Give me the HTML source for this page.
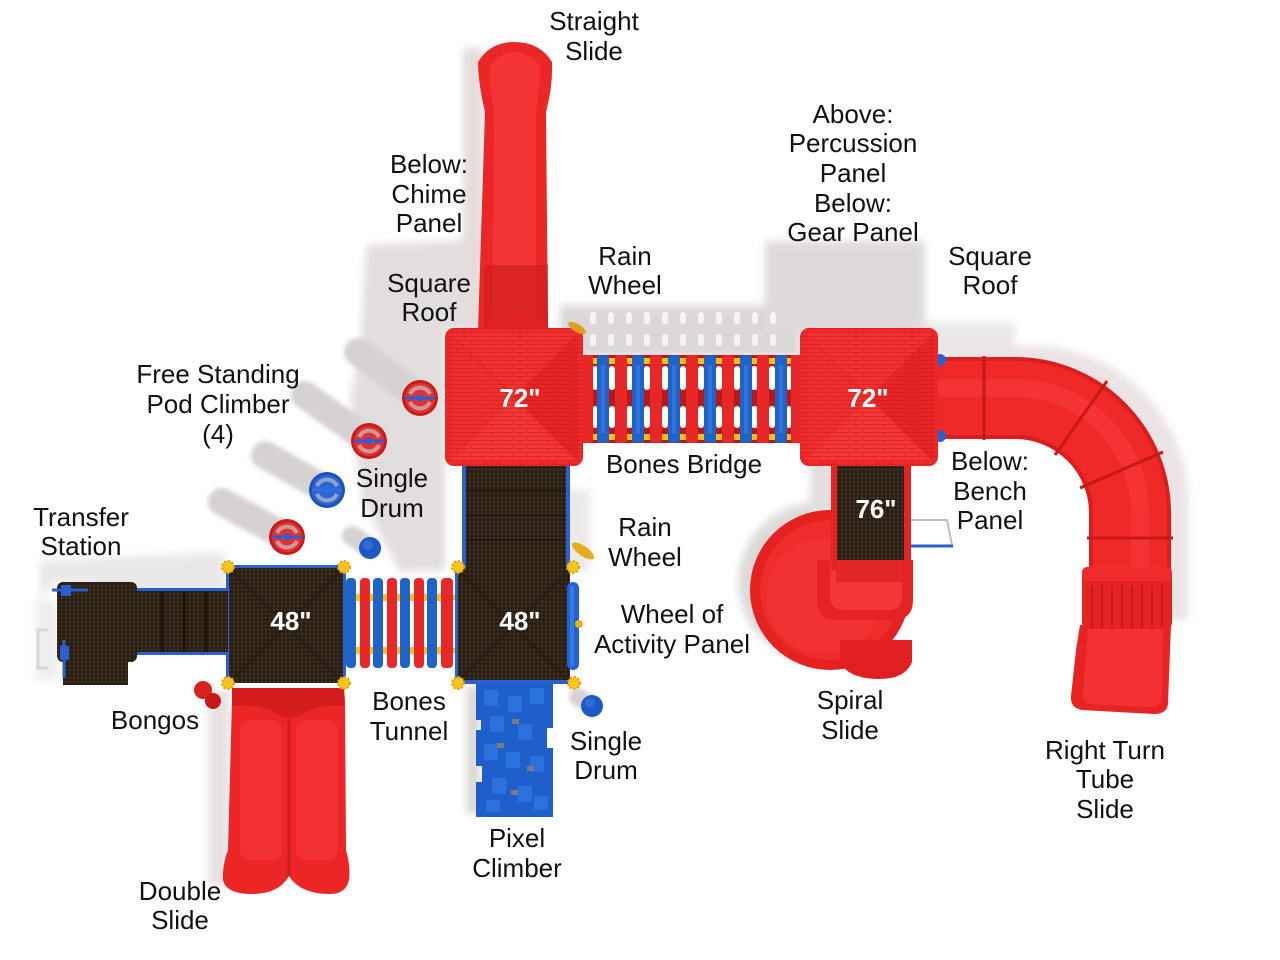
<!DOCTYPE html>
<html><head><meta charset="utf-8">
<style>
html,body{margin:0;padding:0;background:#fff;}
svg{display:block;}
text{font-family:"Liberation Sans",Arial,sans-serif;}
.l{font-size:26px;fill:#111;text-anchor:middle;}
.n{font-size:26px;font-weight:bold;fill:#fff;text-anchor:middle;}
</style></head><body>
<svg width="1280" height="960" viewBox="0 0 1280 960" xmlns="http://www.w3.org/2000/svg">
<defs>
 <pattern id="dots" width="4" height="4" patternUnits="userSpaceOnUse">
  <rect width="4" height="4" fill="#2b2016"/>
  <rect x="1" y="1" width="1.4" height="1.4" fill="#55452f"/>
 </pattern>
 <pattern id="brick" width="14" height="8" patternUnits="userSpaceOnUse">
  <path d="M0,0.5H14M0,4.5H14M2,0.5V4.5M9,4.5V8" stroke="#c81818" stroke-width="1" fill="none" opacity="0.45"/>
 </pattern>
 <filter id="b4" x="-20%" y="-20%" width="140%" height="140%"><feGaussianBlur stdDeviation="4"/></filter>
 <filter id="b2" x="-20%" y="-20%" width="140%" height="140%"><feGaussianBlur stdDeviation="2"/></filter>
</defs>

<!-- ================= SHADOWS ================= -->
<g filter="url(#b4)">
 <polygon points="366,245 472,240 472,330 445,330 445,570 400,572 362,500 350,400 360,350" fill="#e2dede"/>
 <rect x="463" y="48" width="20" height="285" fill="#e6dcdc"/>
 <rect x="560" y="305" width="240" height="52" fill="#dcd8d8"/>
 <rect x="765" y="241" width="160" height="92" fill="#dedada"/>
 <rect x="925" y="322" width="90" height="40" fill="#ebe8e8"/>
 <path d="M953,386 H1033 A115,115 0 0 1 1148,501 V620" stroke="#ece4e4" stroke-width="80" fill="none"/>
 <circle cx="818" cy="582" r="80" fill="#dedada"/>
 <rect x="810" y="460" width="30" height="110" fill="#e2dede"/>
 <polygon points="40,560 225,552 228,592 137,592 55,582 40,600" fill="#ebe8e8"/>
 <rect x="36" y="600" width="22" height="80" fill="#efeeee"/>
 <rect x="208" y="690" width="22" height="195" fill="#e6e2e2"/>
 <rect x="466" y="686" width="14" height="128" fill="#dcd8d8"/>
 <rect x="540" y="490" width="50" height="80" fill="#ebe8e8"/>
</g>
<!-- bridge shadow light gaps -->
<g fill="#f8f6f6" opacity="0.9">
 <rect x="590" y="312" width="6" height="12" rx="3"/><rect x="608" y="312" width="6" height="12" rx="3"/><rect x="626" y="312" width="6" height="12" rx="3"/><rect x="644" y="312" width="6" height="12" rx="3"/><rect x="662" y="312" width="6" height="12" rx="3"/><rect x="680" y="312" width="6" height="12" rx="3"/><rect x="698" y="312" width="6" height="12" rx="3"/><rect x="716" y="312" width="6" height="12" rx="3"/><rect x="734" y="312" width="6" height="12" rx="3"/><rect x="752" y="312" width="6" height="12" rx="3"/><rect x="770" y="312" width="6" height="12" rx="3"/>
 <rect x="590" y="334" width="6" height="12" rx="3"/><rect x="608" y="334" width="6" height="12" rx="3"/><rect x="626" y="334" width="6" height="12" rx="3"/><rect x="644" y="334" width="6" height="12" rx="3"/><rect x="662" y="334" width="6" height="12" rx="3"/><rect x="680" y="334" width="6" height="12" rx="3"/><rect x="698" y="334" width="6" height="12" rx="3"/><rect x="716" y="334" width="6" height="12" rx="3"/><rect x="734" y="334" width="6" height="12" rx="3"/><rect x="752" y="334" width="6" height="12" rx="3"/><rect x="770" y="334" width="6" height="12" rx="3"/>
</g>
<!-- pod climber shadows -->
<g filter="url(#b2)" stroke="#d6d2d2" stroke-width="28" stroke-linecap="round">
 <line x1="420" y1="398" x2="358" y2="352"/>
 <line x1="369" y1="441" x2="305" y2="395"/>
 <line x1="327" y1="490" x2="265" y2="455"/>
 <line x1="287" y1="537" x2="222" y2="502"/>
 <line x1="370" y1="548" x2="352" y2="536" stroke-width="20"/>
 <line x1="592" y1="706" x2="578" y2="697" stroke-width="18"/>
</g>

<!-- ================= STRAIGHT SLIDE ================= -->
<path d="M478,330 L485,112 Q478,82 478,62 Q490,42 514,42 Q540,42 552,62 Q553,86 546,112 L548,330 Z" fill="#ea2626"/>
<path d="M492,330 L494,112 Q488,80 490,66 Q500,52 514,52 Q530,52 540,66 Q540,82 536,112 L536,330 Z" fill="#f33434"/>
<rect x="484" y="265" width="64" height="65" fill="#c81c1c" opacity="0.55"/>
<ellipse cx="516" cy="326" rx="30" ry="10" fill="#e02424"/>

<!-- ================= TUBE SLIDE ================= -->
<path d="M930,398 H1015 A115,115 0 0 1 1130,513 V600" stroke="#d81e1e" stroke-width="82" fill="none"/>
<path d="M930,398 H1015 A115,115 0 0 1 1130,513 V600" stroke="#ef2828" stroke-width="74" fill="none"/>
<path d="M930,388 H1015 A125,125 0 0 1 1140,513 V600" stroke="#ff4a4a" stroke-width="18" fill="none" opacity="0.35"/>
<g stroke="#c81818" stroke-width="3" fill="none">
 <line x1="984" y1="356" x2="984" y2="440"/>
 <line x1="1055" y1="455" x2="1107" y2="381"/>
 <line x1="1080" y1="488" x2="1163" y2="452"/>
 <line x1="1087" y1="538" x2="1173" y2="538"/>
</g>
<!-- exit -->
<path d="M1080,625 L1171,625 L1170,650 L1168,704 Q1167,714 1154,714 L1082,710 Q1070,708 1071,696 L1076,650 Z" fill="#e62424"/>
<path d="M1088,628 L1163,628 L1162,700 Q1160,707 1150,707 L1090,704 Q1082,702 1083,694 Z" fill="#f23232"/>
<rect x="1082" y="567" width="90" height="62" rx="6" fill="#e42424"/>
<g stroke="#c41818" stroke-width="1.5">
 <line x1="1092" y1="585" x2="1092" y2="628"/><line x1="1102" y1="585" x2="1102" y2="628"/><line x1="1112" y1="585" x2="1112" y2="628"/><line x1="1122" y1="585" x2="1122" y2="628"/><line x1="1132" y1="585" x2="1132" y2="628"/><line x1="1142" y1="585" x2="1142" y2="628"/><line x1="1152" y1="585" x2="1152" y2="628"/><line x1="1162" y1="585" x2="1162" y2="628"/>
</g>
<rect x="1082" y="567" width="90" height="14" rx="5" fill="#ee2c2c"/>
<!-- blue fittings near right roof -->
<circle cx="940" cy="360" r="6" fill="#2a60cc"/>
<circle cx="940" cy="436" r="6" fill="#2a60cc"/>

<!-- ================= BRIDGE ================= -->
<rect x="583" y="355" width="217" height="88" fill="#b51a1a"/>
<g fill="#ffffff">
 <rect x="593" y="366" width="4" height="24" rx="2"/><rect x="609" y="366" width="6" height="24" rx="3"/><rect x="644" y="366" width="6" height="24" rx="3"/><rect x="680" y="366" width="6" height="24" rx="3"/><rect x="716" y="366" width="6" height="24" rx="3"/><rect x="752" y="366" width="5" height="24" rx="2"/><rect x="787" y="366" width="4" height="24" rx="2"/>
 <rect x="627" y="366" width="5" height="24" rx="2"/><rect x="662" y="366" width="6" height="24" rx="3"/><rect x="698" y="366" width="6" height="24" rx="3"/><rect x="734" y="366" width="6" height="24" rx="3"/><rect x="769" y="366" width="6" height="24" rx="3"/>
 <rect x="593" y="406" width="4" height="22" rx="2"/><rect x="609" y="406" width="6" height="22" rx="3"/><rect x="644" y="406" width="6" height="22" rx="3"/><rect x="680" y="406" width="6" height="22" rx="3"/><rect x="716" y="406" width="6" height="22" rx="3"/><rect x="752" y="406" width="5" height="22" rx="2"/><rect x="787" y="406" width="4" height="22" rx="2"/>
 <rect x="627" y="406" width="5" height="22" rx="2"/><rect x="662" y="406" width="6" height="22" rx="3"/><rect x="698" y="406" width="6" height="22" rx="3"/><rect x="734" y="406" width="6" height="22" rx="3"/><rect x="769" y="406" width="6" height="22" rx="3"/>
</g>
<g fill="#1f62c8">
 <rect x="597" y="355" width="12" height="88" rx="3"/><rect x="632" y="355" width="12" height="88" rx="3"/><rect x="668" y="355" width="12" height="88" rx="3"/><rect x="704" y="355" width="12" height="88" rx="3"/><rect x="740" y="355" width="12" height="88" rx="3"/><rect x="775" y="355" width="12" height="88" rx="3"/>
</g>
<g fill="#3a80e6" opacity="0.6">
 <rect x="601" y="365" width="4" height="68"/><rect x="636" y="365" width="4" height="68"/><rect x="672" y="365" width="4" height="68"/><rect x="708" y="365" width="4" height="68"/><rect x="744" y="365" width="4" height="68"/><rect x="779" y="365" width="4" height="68"/>
</g>
<g fill="#e82828">
 <rect x="583" y="355" width="10" height="88"/><rect x="615" y="355" width="12" height="88" rx="3"/><rect x="650" y="355" width="12" height="88" rx="3"/><rect x="686" y="355" width="12" height="88" rx="3"/><rect x="722" y="355" width="12" height="88" rx="3"/><rect x="757" y="355" width="12" height="88" rx="3"/><rect x="791" y="355" width="9" height="88"/>
</g>
<g fill="#f4c01c">
 <rect x="593" y="358" width="4" height="6"/><rect x="609" y="358" width="6" height="6"/><rect x="627" y="358" width="5" height="6"/><rect x="644" y="358" width="6" height="6"/><rect x="662" y="358" width="6" height="6"/><rect x="680" y="358" width="6" height="6"/><rect x="698" y="358" width="6" height="6"/><rect x="716" y="358" width="6" height="6"/><rect x="734" y="358" width="6" height="6"/><rect x="752" y="358" width="5" height="6"/><rect x="769" y="358" width="6" height="6"/><rect x="787" y="358" width="4" height="6"/>
 <rect x="593" y="434" width="4" height="6"/><rect x="609" y="434" width="6" height="6"/><rect x="627" y="434" width="5" height="6"/><rect x="644" y="434" width="6" height="6"/><rect x="662" y="434" width="6" height="6"/><rect x="680" y="434" width="6" height="6"/><rect x="698" y="434" width="6" height="6"/><rect x="716" y="434" width="6" height="6"/><rect x="734" y="434" width="6" height="6"/><rect x="752" y="434" width="5" height="6"/><rect x="769" y="434" width="6" height="6"/><rect x="787" y="434" width="4" height="6"/>
</g>

<!-- ================= ROOFS ================= -->
<g>
 <rect x="445" y="328" width="138" height="138" rx="9" fill="#ee2a2a"/>
 <polygon points="450,333 578,333 514,397" fill="#f03232"/>
 <polygon points="578,333 578,461 514,397" fill="#e62626"/>
 <polygon points="450,461 578,461 514,397" fill="#f33636"/>
 <polygon points="450,333 450,461 514,397" fill="#ef2e2e"/>
 <rect x="445" y="328" width="138" height="138" rx="9" fill="url(#brick)"/>
 <line x1="452" y1="335" x2="576" y2="459" stroke="#d82020" stroke-width="1" opacity="0.6"/>
</g>
<g>
 <rect x="800" y="328" width="138" height="138" rx="9" fill="#ee2a2a"/>
 <polygon points="805,333 933,333 869,397" fill="#f03232"/>
 <polygon points="933,333 933,461 869,397" fill="#e62626"/>
 <polygon points="805,461 933,461 869,397" fill="#f33636"/>
 <polygon points="805,333 805,461 869,397" fill="#ef2e2e"/>
 <rect x="800" y="328" width="138" height="138" rx="9" fill="url(#brick)"/>
 <line x1="807" y1="335" x2="931" y2="459" stroke="#d82020" stroke-width="1" opacity="0.6"/>
</g>
<!-- rain wheel top -->
<ellipse cx="577" cy="328" rx="10" ry="4" transform="rotate(30 577 328)" fill="#d9a21c"/>

<!-- ================= SPIRAL SLIDE + 76 DECK ================= -->
<circle cx="830" cy="590" r="80" fill="#e42222"/>
<circle cx="830" cy="590" r="70" fill="#ef2c2c"/>
<circle cx="824" cy="596" r="58" fill="#f23434" opacity="0.7"/>
<path d="M840,640 H912 V662 Q905,680 876,679 Q848,678 840,662 Z" fill="#e02020"/>
<path d="M817,560 H913 V600 Q913,620 893,620 H837 Q817,620 817,600 Z" fill="#e42424"/>
<path d="M830,560 H902 V596 Q902,610 888,610 H844 Q830,610 830,596 Z" fill="#f43636"/>
<rect x="836" y="560" width="66" height="22" fill="#d41e1e" opacity="0.6"/>
<rect x="837" y="466" width="67" height="94" fill="url(#dots)"/>
<rect x="831" y="466" width="6" height="104" fill="#e42424"/>
<rect x="904" y="466" width="7" height="130" fill="#e42424"/>
<path d="M911,520 H947 L952,545" stroke="#bdbdc8" stroke-width="2" fill="none"/>
<line x1="911" y1="546" x2="953" y2="546" stroke="#2a5fd0" stroke-width="3"/>

<!-- ================= MIDDLE RAMP + DECK ================= -->
<rect x="466" y="466" width="100" height="104" fill="url(#dots)"/>
<g stroke="#1e160e" stroke-width="2" opacity="0.6">
 <line x1="466" y1="490" x2="566" y2="490"/><line x1="466" y1="515" x2="566" y2="515"/><line x1="466" y1="540" x2="566" y2="540"/>
</g>
<rect x="462" y="466" width="4" height="104" fill="#2a5fd0"/>
<rect x="566" y="466" width="4" height="104" fill="#2a5fd0"/>
<rect x="457" y="568" width="113" height="115" fill="url(#dots)"/>
<path d="M460,571 L567,680 M567,571 L460,680" stroke="#1e160e" stroke-width="2" opacity="0.5"/>
<rect x="457" y="680" width="115" height="4" fill="#2a5fd0"/>
<rect x="567" y="582" width="12" height="88" rx="6" fill="#2462d4"/>
<rect x="570" y="586" width="4" height="80" fill="#3d86ee" opacity="0.7"/>
<circle cx="579" cy="624" r="4" fill="#e9b318"/>
<!-- rain wheel lower -->
<ellipse cx="583" cy="551" rx="13" ry="5" transform="rotate(35 583 551)" fill="#e6ae1c"/>

<!-- ================= PIXEL CLIMBER ================= -->
<path d="M476,684 H553 V728 H547 V748 H553 V817 H476 V782 H482 V766 H476 V730 H481 V720 H476 Z" fill="#1f5fcc"/>
<g fill="#2f76e2" opacity="0.8">
 <rect x="484" y="690" width="14" height="16"/><rect x="508" y="696" width="14" height="16"/><rect x="530" y="688" width="14" height="16"/>
 <rect x="490" y="716" width="14" height="16"/><rect x="518" y="724" width="14" height="16"/>
 <rect x="484" y="744" width="14" height="16"/><rect x="506" y="752" width="14" height="16"/><rect x="530" y="756" width="14" height="16"/>
 <rect x="492" y="778" width="14" height="16"/><rect x="518" y="786" width="14" height="16"/><rect x="486" y="800" width="14" height="12"/><rect x="534" y="796" width="14" height="14"/>
</g>
<g fill="#7c7c80">
 <rect x="512" y="719" width="7" height="5"/><rect x="497" y="743" width="7" height="5"/><rect x="527" y="766" width="7" height="5"/><rect x="511" y="790" width="7" height="5"/>
</g>

<!-- ================= LEFT 48 DECK ================= -->
<rect x="228" y="567" width="116" height="116" fill="url(#dots)"/>
<path d="M231,570 L341,680 M341,570 L231,680" stroke="#1e160e" stroke-width="2" opacity="0.5"/>
<rect x="226" y="565" width="120" height="3" fill="#2a5fd0"/>
<rect x="226" y="565" width="3" height="118" fill="#2a5fd0"/>

<!-- ================= BONES TUNNEL ================= -->
<rect x="344" y="578" width="114" height="90" fill="#ffffff"/>
<rect x="344" y="595" width="114" height="5" fill="#f4c01c"/>
<rect x="344" y="648" width="114" height="5" fill="#f4c01c"/>
<g fill="#1f62c8">
 <rect x="346" y="578" width="10" height="90" rx="4"/><rect x="373" y="578" width="10" height="90" rx="4"/><rect x="400" y="578" width="10" height="90" rx="4"/><rect x="427" y="578" width="10" height="90" rx="4"/>
</g>
<g fill="#e82828">
 <rect x="360" y="578" width="10" height="90" rx="4"/><rect x="387" y="578" width="10" height="90" rx="4"/><rect x="414" y="578" width="10" height="90" rx="4"/><rect x="441" y="578" width="12" height="90" rx="4"/>
</g>
<g fill="#f4c01c">
 <rect x="356" y="594" width="4" height="7"/><rect x="370" y="594" width="3" height="7"/><rect x="383" y="594" width="4" height="7"/><rect x="397" y="594" width="3" height="7"/><rect x="410" y="594" width="4" height="7"/><rect x="424" y="594" width="3" height="7"/><rect x="437" y="594" width="4" height="7"/>
 <rect x="356" y="647" width="4" height="7"/><rect x="370" y="647" width="3" height="7"/><rect x="383" y="647" width="4" height="7"/><rect x="397" y="647" width="3" height="7"/><rect x="410" y="647" width="4" height="7"/><rect x="424" y="647" width="3" height="7"/><rect x="437" y="647" width="4" height="7"/>
</g>
<rect x="343" y="567" width="3" height="116" fill="#2a5fd0"/>
<rect x="455" y="567" width="3" height="116" fill="#2a5fd0"/>

<!-- ================= TRANSFER STATION ================= -->
<rect x="63" y="655" width="65" height="30" fill="url(#dots)"/>
<rect x="57" y="582" width="80" height="80" rx="6" fill="url(#dots)"/>
<rect x="137" y="590" width="91" height="64" fill="url(#dots)"/>
<g stroke="#17100a" stroke-width="3" opacity="0.7">
 <line x1="162" y1="592" x2="162" y2="652"/><line x1="184" y1="592" x2="184" y2="652"/><line x1="206" y1="592" x2="206" y2="652"/>
</g>
<rect x="137" y="588" width="91" height="3" fill="#2a5fd0"/>
<rect x="137" y="652" width="91" height="3" fill="#2a5fd0"/>
<line x1="52" y1="590" x2="88" y2="590" stroke="#2a5fd0" stroke-width="3"/>
<rect x="61" y="585" width="10" height="11" fill="#2a5fd0"/>
<line x1="64" y1="640" x2="64" y2="678" stroke="#2a5fd0" stroke-width="3"/>
<rect x="60" y="646" width="9" height="14" fill="#2a5fd0"/>
<path d="M48,630 H38 V668 H48" stroke="#d6d6d6" stroke-width="3" fill="none"/>

<!-- ================= DOUBLE SLIDE ================= -->
<path d="M232,688 L344,688 L345,700 L346,850 Q351,868 349,880 Q346,894 330,894 Q300,894 289,876 Q279,894 252,894 Q226,894 223,880 Q222,866 228,850 L232,700 Z" fill="#ec2626"/>
<rect x="240" y="720" width="42" height="140" rx="10" fill="#f63a3a" opacity="0.55"/>
<rect x="296" y="720" width="42" height="140" rx="10" fill="#f63a3a" opacity="0.55"/>
<line x1="289" y1="712" x2="289" y2="876" stroke="#cc1c1c" stroke-width="3"/>
<path d="M232,688 L344,688 L344,706 Q320,704 306,712 Q290,724 274,712 Q258,704 232,706 Z" fill="#d41e1e"/>

<!-- bongos -->
<circle cx="203" cy="690" r="9" fill="#d82020"/>
<circle cx="213" cy="701" r="8" fill="#c81a1a"/>

<!-- ================= POD CLIMBERS ================= -->
<g transform="translate(420,398)"><circle r="18" fill="#c61c1c"/><circle r="15" fill="#e63030"/><path d="M-10,-4 A11,11 0 0 1 10,-4" stroke="#c99a9a" stroke-width="4" fill="none"/><path d="M-10,4 A11,11 0 0 0 10,4" stroke="#c99a9a" stroke-width="4" fill="none"/><rect x="-15" y="-1.5" width="30" height="3" fill="#2a5fd8"/><circle r="3.5" fill="#2a5fd8"/></g>
<g transform="translate(369,441)"><circle r="18" fill="#c61c1c"/><circle r="15" fill="#e63030"/><path d="M-10,-4 A11,11 0 0 1 10,-4" stroke="#c99a9a" stroke-width="4" fill="none"/><path d="M-10,4 A11,11 0 0 0 10,4" stroke="#c99a9a" stroke-width="4" fill="none"/><rect x="-15" y="-1.5" width="30" height="3" fill="#2a5fd8"/><circle r="3.5" fill="#2a5fd8"/></g>
<g transform="translate(327,490)"><circle r="18" fill="#1a52b8"/><circle r="15" fill="#2a66d4"/><path d="M-10,-4 A11,11 0 0 1 10,-4" stroke="#8fa4c8" stroke-width="4" fill="none"/><path d="M-10,4 A11,11 0 0 0 10,4" stroke="#8fa4c8" stroke-width="4" fill="none"/><rect x="-15" y="-1.5" width="30" height="3" fill="#2f6ee0"/><circle r="3.5" fill="#2f6ee0"/></g>
<g transform="translate(287,537)"><circle r="18" fill="#c61c1c"/><circle r="15" fill="#e63030"/><path d="M-10,-4 A11,11 0 0 1 10,-4" stroke="#c99a9a" stroke-width="4" fill="none"/><path d="M-10,4 A11,11 0 0 0 10,4" stroke="#c99a9a" stroke-width="4" fill="none"/><rect x="-15" y="-1.5" width="30" height="3" fill="#2a5fd8"/><circle r="3.5" fill="#2a5fd8"/></g>

<!-- single drums -->
<circle cx="370" cy="548" r="11" fill="#1d58c4"/><circle cx="368" cy="545" r="5" fill="#3a7ae0" opacity="0.6"/>
<circle cx="592" cy="706" r="11" fill="#1d58c4"/><circle cx="590" cy="703" r="5" fill="#3a7ae0" opacity="0.6"/>

<!-- yellow knobs -->
<g fill="#f6c41c" stroke="#e0a010" stroke-width="2" stroke-dasharray="2 2">
 <circle cx="228" cy="567" r="6"/><circle cx="344" cy="567" r="6"/><circle cx="228" cy="683" r="6"/><circle cx="344" cy="683" r="6"/>
 <circle cx="458" cy="567" r="6"/><circle cx="573" cy="567" r="6"/><circle cx="458" cy="683" r="6"/><circle cx="574" cy="683" r="6"/>
</g>

<!-- ================= NUMBERS ================= -->
<text class="n" x="520" y="407">72"</text>
<text class="n" x="868" y="407">72"</text>
<text class="n" x="291" y="630">48"</text>
<text class="n" x="520" y="630">48"</text>
<text class="n" x="876" y="518">76"</text>

<!-- ================= LABELS ================= -->
<text class="l" x="594" y="30">Straight</text>
<text class="l" x="594" y="60">Slide</text>
<text class="l" x="429" y="173">Below:</text>
<text class="l" x="429" y="203">Chime</text>
<text class="l" x="429" y="232">Panel</text>
<text class="l" x="429" y="292">Square</text>
<text class="l" x="429" y="321">Roof</text>
<text class="l" x="625" y="265">Rain</text>
<text class="l" x="625" y="294">Wheel</text>
<text class="l" x="853" y="123">Above:</text>
<text class="l" x="853" y="152">Percussion</text>
<text class="l" x="853" y="182">Panel</text>
<text class="l" x="853" y="212">Below:</text>
<text class="l" x="853" y="241">Gear Panel</text>
<text class="l" x="990" y="265">Square</text>
<text class="l" x="990" y="294">Roof</text>
<text class="l" x="218" y="383">Free Standing</text>
<text class="l" x="218" y="413">Pod Climber</text>
<text class="l" x="218" y="443">(4)</text>
<text class="l" x="392" y="487">Single</text>
<text class="l" x="392" y="517">Drum</text>
<text class="l" x="684" y="473">Bones Bridge</text>
<text class="l" x="645" y="536">Rain</text>
<text class="l" x="645" y="566">Wheel</text>
<text class="l" x="81" y="526">Transfer</text>
<text class="l" x="81" y="555">Station</text>
<text class="l" x="990" y="470">Below:</text>
<text class="l" x="990" y="500">Bench</text>
<text class="l" x="990" y="529">Panel</text>
<text class="l" x="672" y="623">Wheel of</text>
<text class="l" x="672" y="653">Activity Panel</text>
<text class="l" x="155" y="729">Bongos</text>
<text class="l" x="409" y="710">Bones</text>
<text class="l" x="409" y="740">Tunnel</text>
<text class="l" x="606" y="750">Single</text>
<text class="l" x="606" y="779">Drum</text>
<text class="l" x="850" y="709">Spiral</text>
<text class="l" x="850" y="739">Slide</text>
<text class="l" x="1105" y="759">Right Turn</text>
<text class="l" x="1105" y="788">Tube</text>
<text class="l" x="1105" y="818">Slide</text>
<text class="l" x="517" y="847">Pixel</text>
<text class="l" x="517" y="877">Climber</text>
<text class="l" x="180" y="900">Double</text>
<text class="l" x="180" y="929">Slide</text>
</svg>
</body></html>
